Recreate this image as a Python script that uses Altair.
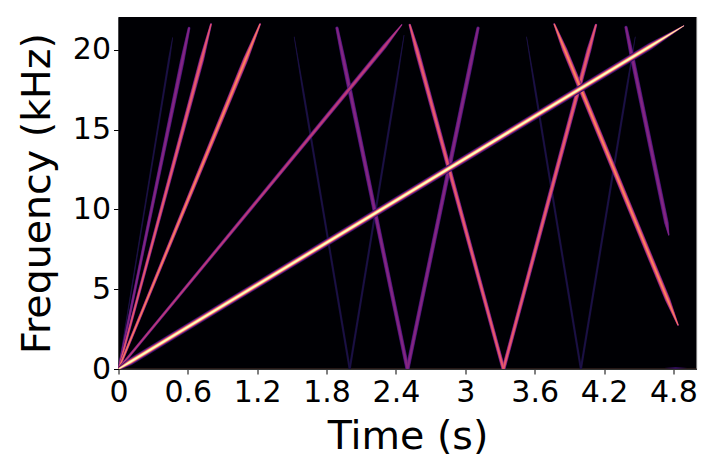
import altair as alt
import pandas as pd

X_TICKS = [0, 0.6, 1.2, 1.8, 2.4, 3, 3.6, 4.2, 4.8]
Y_TICKS = [0, 5, 10, 15, 20]
PLOT_T = [0, 5.0]
PLOT_F = [0, 22.05]

# each segment: time (s), frequency (kHz), relative strength along the segment
H10 = [
    ([0, 0.44, 0.468], [0, 19.5, 20.75], [0.5, 1, 0.4]),
    ([1.52, 1.6, 2.0], [20.8, 17.3, 0], [0.4, 1, 1]),
    ([2.0, 2.4, 2.47], [0, 17.7, 20.9], [1, 1, 0.4]),
    ([3.53, 3.6, 4.0], [20.8, 17.7, 0], [0.4, 1, 1]),
    ([4.0, 4.4, 4.47], [0, 17.7, 20.8], [1, 1, 0.4]),
]
H8 = [
    ([0, 0.55, 0.61], [0, 19.25, 21.35], [0.5, 1, 0.6]),
    ([1.89, 1.95, 2.5], [21.35, 19.25, 0], [0.7, 1, 0.9]),
    ([2.5, 3.05, 3.11], [0, 19.25, 21.35], [0.9, 1, 0.7]),
    ([4.39, 4.44, 4.74, 4.76], [21.4, 19.65, 9.15, 8.4], [0.7, 1, 1, 0.3]),
]
H2 = [
    ([0, 2.3, 2.45], [0, 20.2, 21.56], [0.6, 1, 0.3]),
]
H6 = [
    ([0, 0.72, 0.8], [0, 19.4, 21.6], [0.5, 1, 0.4]),
    ([2.52, 2.58, 3.33], [21.55, 20, 0], [0.5, 1, 0.8]),
    ([3.33, 4.07, 4.13], [0, 20, 21.55], [0.8, 1, 0.5]),
]
H4 = [
    ([0, 1.1, 1.224], [0, 19.4, 21.6], [0.5, 1, 0.35]),
    ([3.77, 3.86, 4.75, 4.84], [21.6, 20, 4.35, 2.76], [0.35, 1, 1, 0.3]),
]
H1 = [
    ([0, 0.1, 4.6, 4.89], [0, 0.44, 20.22, 21.5], [0.4, 1, 1, 0.15]),
]
DC = [
    ([0, 5.0], [0.02, 0.02], [1, 1]),
]
BUMP = [
    ([4.72, 4.82, 4.92], [0.06, 0.06, 0.06], [0.1, 1, 0.1]),
]

# (segments, [(band width, colour), ...]) drawn from faintest to brightest
GROUPS = [
    (DC, [(1.0, "#33211c")]),
    (BUMP, [(1.5, "#3b0f70")]),
    (H10, [(2.2, "#170f3c"), (1.0, "#1d1147")]),
    (H8, [(4.6, "#3b0f70"), (3.4, "#721f81"), (1.6, "#862781")]),
    (H6, [(5.0, "#51127c"), (3.8, "#b5367a"), (2.2, "#e8596a")]),
    (H4, [(5.4, "#641a80"), (4.2, "#c43c75"), (2.6, "#f1605d"), (1.2, "#fb8861")]),
    (H2, [(4.6, "#451077"), (3.2, "#9e2f7f"), (1.6, "#c03a76")]),
    (H1, [(7.0, "#2c115f"), (5.6, "#721f81"), (4.2, "#de4968"), (3.0, "#feb078"), (1.8, "#fcfdbf")]),
]


def table(segments):
    rows = []
    for i, (ts, fs, ls) in enumerate(segments):
        for j in range(len(ts)):
            rows.append({"t": ts[j], "f": fs[j], "lvl": ls[j], "seg": i, "n": j})
    return pd.DataFrame(rows)


x = alt.X(
    "t:Q",
    title="Time (s)",
    scale=alt.Scale(domain=PLOT_T, nice=False, zero=False),
    axis=alt.Axis(
        values=X_TICKS, labelExpr="'' + datum.value", grid=False, tickSize=5,
        labelFontSize=30, titleFontSize=39.5, labelPadding=3, titlePadding=10,
        labelOverlap=False, labelFlush=False, tickColor="#000", domainColor="#333",
        labelColor="#000", titleColor="#000", labelFont="DejaVu Sans",
        titleFont="DejaVu Sans", titleFontWeight="normal",
    ),
)
y = alt.Y(
    "f:Q",
    title="Frequency (kHz)",
    scale=alt.Scale(domain=PLOT_F, nice=False, zero=False),
    axis=alt.Axis(
        values=Y_TICKS, grid=False, tickSize=5, labelFontSize=30, titleFontSize=39.5,
        labelPadding=3, titlePadding=15, tickColor="#000", domainColor="#333",
        labelColor="#000", titleColor="#000", labelFont="DejaVu Sans",
        titleFont="DejaVu Sans", titleFontWeight="normal",
    ),
)

backdrop = (
    alt.Chart(pd.DataFrame({"t": [PLOT_T[0]], "t2": [PLOT_T[1]], "f": [PLOT_F[0]], "f2": [PLOT_F[1]]}))
    .mark_rect(color="#000004")
    .encode(x=x, x2="t2:Q", y=y, y2="f2:Q")
)

layers = [backdrop]
for segments, bands in GROUPS:
    df = table(segments)
    for width, colour in bands:
        layers.append(
            alt.Chart(df)
            .mark_trail(color=colour, clip=True, opacity=1)
            .encode(
                x=x,
                y=y,
                detail="seg:N",
                order="n:Q",
                size=alt.Size(
                    "lvl:Q",
                    scale=alt.Scale(domain=[0, 1], range=[0, width]),
                    legend=None,
                ),
            )
        )

chart = (
    alt.layer(*layers)
    .resolve_scale(size="independent")
    .properties(
        width=578,
        height=352,
        autosize=alt.AutoSizeParams(type="none"),
        padding={"left": 110.5, "top": 9, "right": 10, "bottom": 90},
    )
    .configure_view(stroke="#444444", strokeWidth=1)
    .configure(background="#ffffff")
)

chart.save("out.html", embed_options={"renderer": "svg", "actions": False})
